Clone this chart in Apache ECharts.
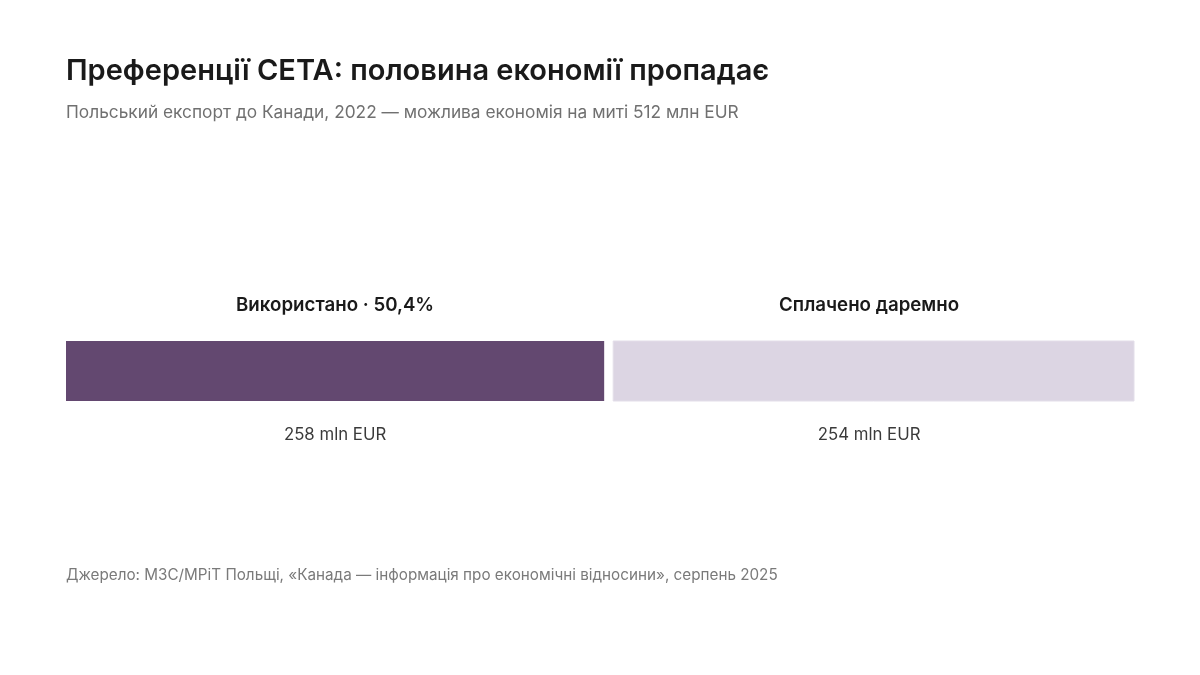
<!DOCTYPE html>
<html>
<head>
<meta charset="utf-8">
<script src="https://cdn.jsdelivr.net/npm/echarts@6/dist/echarts.min.js"></script>
<style>
html,body{margin:0;padding:0;background:#fff;}
#chart{width:1200px;height:675px;}
</style>
</head>
<body>
<div id="chart"></div>
<script>
const segmentNames = ['Використано · 50,4%', 'Сплачено даремно'];
const segmentValues = [258, 254];
const valueLabels = ['258 mln EUR', '254 mln EUR'];
const total = 512;

const colors = ['#634870', '#dcd5e3'];
const FONT = 'Inter, "Noto Sans", sans-serif';

let cum = 0;
const segData = segmentValues.map((v, i) => {
  const item = [cum, cum + v, i];
  cum += v;
  return item;
});

const chart = echarts.init(document.getElementById('chart'), null, {renderer: 'canvas'});
chart.setOption({
  backgroundColor: '#ffffff',
  animation: false,
  title: [
    {text: 'Преференції CETA: половина економії пропадає', left: 66, top: 57, padding: 0,
     textStyle: {fontFamily: FONT, fontSize: 29, fontWeight: 600, color: '#1a1a1a'}},
    {text: 'Польський експорт до Канади, 2022 — можлива економія на миті 512 млн EUR', left: 66, top: 104, padding: 0,
     textStyle: {fontFamily: FONT, fontSize: 17.3, fontWeight: 400, color: '#707070'}},
    {text: 'Джерело: МЗС/МРіТ Польщі, «Канада — інформація про економічні відносини», серпень 2025', left: 66, top: 568, padding: 0,
     textStyle: {fontFamily: FONT, fontSize: 15.25, fontWeight: 400, color: '#7a7a7a'}}
  ],
  grid: {left: 66, right: 66, top: 341, height: 60, containLabel: false},
  xAxis: {type: 'value', min: 0, max: total, show: false},
  yAxis: {type: 'category', data: ['export'], show: false},
  series: [{
    type: 'custom',
    data: segData,
    encode: {x: [0, 1], y: 2},
    renderItem: function (params, api) {
      const i = api.value(2);
      const start = api.coord([api.value(0), 0]);
      const end = api.coord([api.value(1), 0]);
      const band = api.size([0, 1])[1];
      const cy = start[1];
      const gap = i > 0 ? 9 : 0;
      const x0 = start[0] + gap;
      const x1 = end[0];
      const mid = (start[0] + end[0]) / 2;
      return {
        type: 'group',
        children: [
          {type: 'rect', shape: {x: x0, y: cy - band / 2, width: x1 - x0, height: band},
           style: {fill: colors[i], stroke: i > 0 ? '#e3dee9' : null, lineWidth: i > 0 ? 1 : 0}},
          {type: 'text', style: {text: segmentNames[i], x: mid, y: cy - 66, align: 'center', verticalAlign: 'middle',
            font: '600 18.7px ' + FONT, fill: '#1a1a1a'}},
          {type: 'text', style: {text: valueLabels[i], x: mid, y: cy + 64, align: 'center', verticalAlign: 'middle',
            font: '400 16.8px ' + FONT, fill: '#3a3a3a'}}
        ]
      };
    }
  }]
});
</script>
</body>
</html>
